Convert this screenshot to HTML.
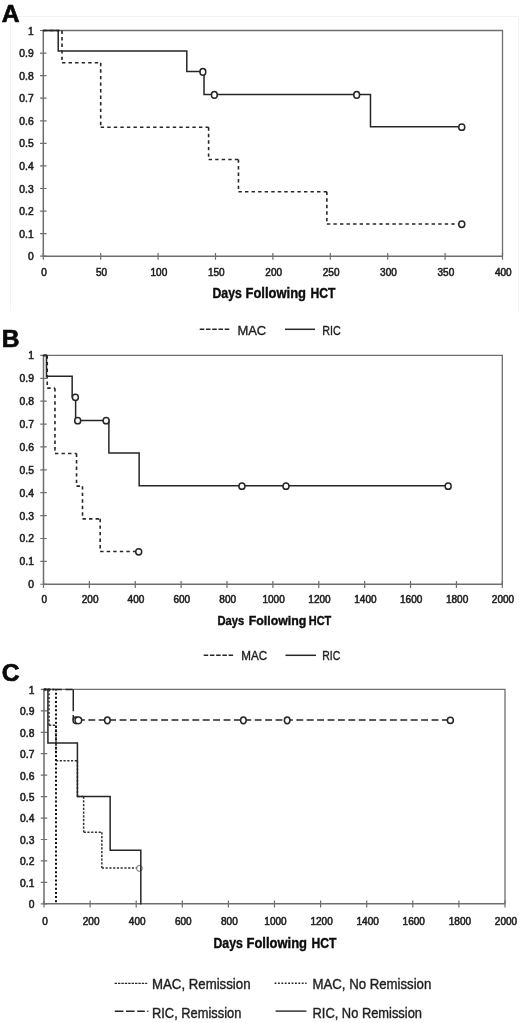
<!DOCTYPE html>
<html lang="en"><head><meta charset="utf-8"><title>Survival following HCT</title>
<style>html,body{margin:0;padding:0;background:#fff}body{width:520px;height:1023px;overflow:hidden}svg{display:block}</style>
</head><body>
<svg width="520" height="1023" viewBox="0 0 520 1023" font-family='"Liberation Sans", Arial, sans-serif'>
<rect width="520" height="1023" fill="#fff"/>
<path d="M10.5 311V16.5H518.5V311" fill="none" stroke="#f3f3f3" stroke-width="1"/>
<path d="M43.3 30.5H502.5V256.2" fill="none" stroke="#6e6e6e" stroke-width="1.3"/>
<path d="M43.3 30.5V256.2H502.5" fill="none" stroke="#6e6e6e" stroke-width="1.5"/>
<path d="M40.1 256.2H46.5M40.1 233.63H46.5M40.1 211.06H46.5M40.1 188.49H46.5M40.1 165.92H46.5M40.1 143.35H46.5M40.1 120.78H46.5M40.1 98.21H46.5M40.1 75.64H46.5M40.1 53.07H46.5M40.1 30.5H46.5M43.3 253.0V259.8M100.7 253.0V259.8M158.1 253.0V259.8M215.5 253.0V259.8M272.9 253.0V259.8M330.3 253.0V259.8M387.7 253.0V259.8M445.1 253.0V259.8M502.5 253.0V259.8" fill="none" stroke="#6e6e6e" stroke-width="1.2"/>
<g font-size="10.3" fill="#1f1f1f" stroke="#1f1f1f" stroke-width="0.55" text-anchor="end">
<text x="33.7" y="260.2">0</text>
<text x="33.7" y="237.6">0.1</text>
<text x="33.7" y="215.1">0.2</text>
<text x="33.7" y="192.5">0.3</text>
<text x="33.7" y="169.9">0.4</text>
<text x="33.7" y="147.3">0.5</text>
<text x="33.7" y="124.8">0.6</text>
<text x="33.7" y="102.2">0.7</text>
<text x="33.7" y="79.6">0.8</text>
<text x="33.7" y="57.1">0.9</text>
<text x="33.7" y="34.5">1</text>
</g>
<g font-size="10.05" fill="#1f1f1f" stroke="#1f1f1f" stroke-width="0.55" text-anchor="middle">
<text x="44.1" y="275.7">0</text>
<text x="101.5" y="275.7">50</text>
<text x="158.9" y="275.7">100</text>
<text x="216.3" y="275.7">150</text>
<text x="273.7" y="275.7">200</text>
<text x="331.1" y="275.7">250</text>
<text x="388.5" y="275.7">300</text>
<text x="445.9" y="275.7">350</text>
<text x="503.3" y="275.7">400</text>
</g>
<text x="1.7" y="22.0" font-size="24.6" font-weight="bold" fill="#0a0a0a" stroke="#0a0a0a" stroke-width="0.7">A</text>
<path d="M43.3 30.5H62.01M62.01 30.5V62.78M62.01 62.78H100.7M100.7 62.78V127.24M100.7 127.24H208.61M208.61 127.24V159.46M208.61 159.46H238.46M238.46 159.46V191.72M238.46 191.72H326.86M326.86 191.72V223.95M326.86 223.95H461.75" fill="none" stroke="#262626" stroke-width="1.6" stroke-dasharray="3.4 3.15"/>
<path d="M43.3 30.5H58.22M58.22 30.5V51.04M58.22 51.04H186.8M186.8 51.04V71.58M186.8 71.58H204.02M204.02 71.58V94.6M204.02 94.6H370.48M370.48 94.6V126.87M370.48 126.87H461.75" fill="none" stroke="#262626" stroke-width="1.5" stroke-linecap="square"/>
<ellipse cx="202.87" cy="71.88" rx="2.9" ry="3.3" fill="#fff" stroke="#262626" stroke-width="1.5"/>
<ellipse cx="214.35" cy="94.90" rx="2.9" ry="3.3" fill="#fff" stroke="#262626" stroke-width="1.5"/>
<ellipse cx="356.7" cy="94.90" rx="2.9" ry="3.3" fill="#fff" stroke="#262626" stroke-width="1.5"/>
<ellipse cx="461.75" cy="127.17" rx="3.0" ry="3.15" fill="#fff" stroke="#262626" stroke-width="1.5"/>
<ellipse cx="461.75" cy="224.25" rx="3.0" ry="3.15" fill="#fff" stroke="#262626" stroke-width="1.5"/>
<text y="298.0" font-size="14" font-weight="bold" fill="#0d0d0d" stroke="#0d0d0d" stroke-width="0.4"><tspan x="212.5" textLength="29.3" lengthAdjust="spacingAndGlyphs">Days</tspan> <tspan x="245.5" textLength="60.5" lengthAdjust="spacingAndGlyphs">Following</tspan> <tspan x="310.5" textLength="25.0" lengthAdjust="spacingAndGlyphs">HCT</tspan></text>
<path d="M199.7 329.3H229.5" fill="none" stroke="#262626" stroke-width="1.5" stroke-dasharray="4.6 1.65"/>
<path d="M285 329.3H315" fill="none" stroke="#262626" stroke-width="1.5"/>
<g font-size="12.3" fill="#1f1f1f" stroke="#1f1f1f" stroke-width="0.35"><text x="237.4" y="334.5" textLength="28.8" lengthAdjust="spacingAndGlyphs">MAC</text>
<text x="322.3" y="334.5" textLength="18.5" lengthAdjust="spacingAndGlyphs">RIC</text></g>
<path d="M43.5 355.4H502.3V584.25" fill="none" stroke="#6e6e6e" stroke-width="1.3"/>
<path d="M43.5 355.4V584.25H502.3" fill="none" stroke="#6e6e6e" stroke-width="1.5"/>
<path d="M40.3 584.25H46.7M40.3 561.37H46.7M40.3 538.48H46.7M40.3 515.6H46.7M40.3 492.71H46.7M40.3 469.82H46.7M40.3 446.94H46.7M40.3 424.06H46.7M40.3 401.17H46.7M40.3 378.28H46.7M40.3 355.4H46.7M43.5 581.0V587.9M89.38 581.0V587.9M135.26 581.0V587.9M181.14 581.0V587.9M227.02 581.0V587.9M272.9 581.0V587.9M318.78 581.0V587.9M364.66 581.0V587.9M410.54 581.0V587.9M456.42 581.0V587.9M502.3 581.0V587.9" fill="none" stroke="#6e6e6e" stroke-width="1.2"/>
<g font-size="10.3" fill="#1f1f1f" stroke="#1f1f1f" stroke-width="0.55" text-anchor="end">
<text x="33.9" y="588.1">0</text>
<text x="33.9" y="565.3">0.1</text>
<text x="33.9" y="542.4">0.2</text>
<text x="33.9" y="519.5">0.3</text>
<text x="33.9" y="496.6">0.4</text>
<text x="33.9" y="473.7">0.5</text>
<text x="33.9" y="450.8">0.6</text>
<text x="33.9" y="428.0">0.7</text>
<text x="33.9" y="405.1">0.8</text>
<text x="33.9" y="382.2">0.9</text>
<text x="33.9" y="359.3">1</text>
</g>
<g font-size="10.05" fill="#1f1f1f" stroke="#1f1f1f" stroke-width="0.55" text-anchor="middle">
<text x="44.2" y="602.9">0</text>
<text x="90.1" y="602.9">200</text>
<text x="136.0" y="602.9">400</text>
<text x="181.8" y="602.9">600</text>
<text x="227.7" y="602.9">800</text>
<text x="273.6" y="602.9">1000</text>
<text x="319.5" y="602.9">1200</text>
<text x="365.4" y="602.9">1400</text>
<text x="411.2" y="602.9">1600</text>
<text x="457.1" y="602.9">1800</text>
<text x="503.0" y="602.9">2000</text>
</g>
<text x="1.7" y="346.5" font-size="24.6" font-weight="bold" fill="#0a0a0a" stroke="#0a0a0a" stroke-width="0.7">B</text>
<path d="M43.5 355.4H47.24M47.24 355.4V388.13M47.24 388.13H54.97M54.97 388.13V453.49M54.97 453.49H76.53M76.53 453.49V486.16M76.53 486.16H82.5M82.5 486.16V518.87M82.5 518.87H100.16M100.16 518.87V551.55M100.16 551.55H138.7" fill="none" stroke="#262626" stroke-width="1.6" stroke-dasharray="3.4 3.15"/>
<path d="M43.5 355.4H46.48M46.48 355.4V376.23M46.48 376.23H72.17M72.17 376.23V397.05M72.17 397.05H75.62M75.62 397.05V420.39M75.62 420.39H108.88M108.88 420.39V453.12M108.88 453.12H139.16M139.16 453.12V485.84M139.16 485.84H447.7" fill="none" stroke="#262626" stroke-width="1.5" stroke-linecap="square"/>
<ellipse cx="75.39" cy="397.35" rx="3.0" ry="3.15" fill="#fff" stroke="#262626" stroke-width="1.5"/>
<ellipse cx="77.68" cy="420.69" rx="3.0" ry="3.15" fill="#fff" stroke="#262626" stroke-width="1.5"/>
<ellipse cx="106.13" cy="420.69" rx="3.0" ry="3.15" fill="#fff" stroke="#262626" stroke-width="1.5"/>
<ellipse cx="241.93" cy="486.14" rx="3.0" ry="3.15" fill="#fff" stroke="#262626" stroke-width="1.5"/>
<ellipse cx="285.98" cy="486.14" rx="3.0" ry="3.15" fill="#fff" stroke="#262626" stroke-width="1.5"/>
<ellipse cx="448.16" cy="486.14" rx="3.0" ry="3.15" fill="#fff" stroke="#262626" stroke-width="1.5"/>
<ellipse cx="138.7" cy="551.85" rx="3.0" ry="3.15" fill="#fff" stroke="#262626" stroke-width="1.5"/>
<text y="625.0" font-size="13" font-weight="bold" fill="#0d0d0d" stroke="#0d0d0d" stroke-width="0.4"><tspan x="217.5" textLength="26.8" lengthAdjust="spacingAndGlyphs">Days</tspan> <tspan x="248.8" textLength="57.5" lengthAdjust="spacingAndGlyphs">Following</tspan> <tspan x="308.8" textLength="22.5" lengthAdjust="spacingAndGlyphs">HCT</tspan></text>
<path d="M203.7 655.3H233.3" fill="none" stroke="#262626" stroke-width="1.5" stroke-dasharray="4.5 1.73"/>
<path d="M285.5 655.3H316" fill="none" stroke="#262626" stroke-width="1.5"/>
<g font-size="12" fill="#1f1f1f" stroke="#1f1f1f" stroke-width="0.35"><text x="241.3" y="660.2" textLength="25.9" lengthAdjust="spacingAndGlyphs">MAC</text>
<text x="322.3" y="660.2" textLength="18" lengthAdjust="spacingAndGlyphs">RIC</text></g>
<path d="M44.0 689.4H505.0V903.8" fill="none" stroke="#6e6e6e" stroke-width="1.3"/>
<path d="M44.0 689.4V903.8H505.0" fill="none" stroke="#6e6e6e" stroke-width="1.5"/>
<path d="M40.8 903.8H47.2M40.8 882.36H47.2M40.8 860.92H47.2M40.8 839.48H47.2M40.8 818.04H47.2M40.8 796.6H47.2M40.8 775.16H47.2M40.8 753.72H47.2M40.8 732.28H47.2M40.8 710.84H47.2M40.8 689.4H47.2M44.0 900.6V907.4M90.1 900.6V907.4M136.2 900.6V907.4M182.3 900.6V907.4M228.4 900.6V907.4M274.5 900.6V907.4M320.6 900.6V907.4M366.7 900.6V907.4M412.8 900.6V907.4M458.9 900.6V907.4M505.0 900.6V907.4" fill="none" stroke="#6e6e6e" stroke-width="1.2"/>
<g font-size="10.3" fill="#1f1f1f" stroke="#1f1f1f" stroke-width="0.55" text-anchor="end">
<text x="34.4" y="908.1">0</text>
<text x="34.4" y="886.7">0.1</text>
<text x="34.4" y="865.2">0.2</text>
<text x="34.4" y="843.8">0.3</text>
<text x="34.4" y="822.3">0.4</text>
<text x="34.4" y="800.9">0.5</text>
<text x="34.4" y="779.5">0.6</text>
<text x="34.4" y="758.0">0.7</text>
<text x="34.4" y="736.6">0.8</text>
<text x="34.4" y="715.1">0.9</text>
<text x="34.4" y="693.7">1</text>
</g>
<g font-size="10.05" fill="#1f1f1f" stroke="#1f1f1f" stroke-width="0.55" text-anchor="middle">
<text x="45.0" y="924.6">0</text>
<text x="91.1" y="924.6">200</text>
<text x="137.2" y="924.6">400</text>
<text x="183.3" y="924.6">600</text>
<text x="229.4" y="924.6">800</text>
<text x="275.5" y="924.6">1000</text>
<text x="321.6" y="924.6">1200</text>
<text x="367.7" y="924.6">1400</text>
<text x="413.8" y="924.6">1600</text>
<text x="459.9" y="924.6">1800</text>
<text x="506.0" y="924.6">2000</text>
</g>
<text x="1.7" y="681.0" font-size="24.6" font-weight="bold" fill="#0a0a0a" stroke="#0a0a0a" stroke-width="0.7">C</text>
<path d="M44.0 689.4H49.07M49.07 689.4V725.14M49.07 725.14H55.99M55.99 725.14V760.86M55.99 760.86H77.42M77.42 760.86V796.6M77.42 796.6H83.65M83.65 796.6V832.34M83.65 832.34H101.86M101.86 832.34V868.06M101.86 868.06H139.43" fill="none" stroke="#333" stroke-width="1.5" stroke-dasharray="2.2 1.55"/>
<ellipse cx="139.43" cy="868.36" rx="2.8" ry="3.0" fill="#fff" stroke="#555" stroke-width="0.9"/>
<path d="M44.0 689.4H55.99" fill="none" stroke="#262626" stroke-width="2.0" stroke-dasharray="2 2.15"/>
<path d="M55.99 689.4V903.8" fill="none" stroke="#111" stroke-width="2.0" stroke-dasharray="2 2.15" stroke-dashoffset="0.87"/>
<path d="M44.0 689.4H73.27" fill="none" stroke="#262626" stroke-width="1.5" stroke-dasharray="7.2 3.5"/>
<path d="M73.27 689.4V711.2M73.27 715V720.06" fill="none" stroke="#262626" stroke-width="1.5"/>
<path d="M73.27 720.06H450.14" fill="none" stroke="#262626" stroke-width="1.5" stroke-dasharray="6.9 3.5" stroke-dashoffset="5.73"/>
<ellipse cx="76.04" cy="720.36" rx="3.0" ry="3.3" fill="#fff" stroke="#262626" stroke-width="1.5"/>
<ellipse cx="78.34" cy="720.36" rx="3.3" ry="3.35" fill="#fff" stroke="#262626" stroke-width="1.5"/>
<ellipse cx="107.39" cy="720.36" rx="2.8" ry="3.4" fill="#fff" stroke="#262626" stroke-width="1.5"/>
<ellipse cx="243.38" cy="720.36" rx="2.8" ry="3.4" fill="#fff" stroke="#262626" stroke-width="1.5"/>
<ellipse cx="287.18" cy="720.36" rx="2.8" ry="3.4" fill="#fff" stroke="#262626" stroke-width="1.5"/>
<ellipse cx="450.37" cy="720.36" rx="3.0" ry="3.2" fill="#fff" stroke="#262626" stroke-width="1.5"/>
<path d="M44.0 689.4H47.92M47.92 689.4V743.0M47.92 743.0H77.42M77.42 743.0V796.6M77.42 796.6H110.15M110.15 796.6V850.2M110.15 850.2H140.81M140.81 850.2V903.8" fill="none" stroke="#262626" stroke-width="1.5" stroke-linecap="square"/>
<text y="948.2" font-size="14" font-weight="bold" fill="#0d0d0d" stroke="#0d0d0d" stroke-width="0.4"><tspan x="213.5" textLength="29.3" lengthAdjust="spacingAndGlyphs">Days</tspan> <tspan x="246.5" textLength="60.5" lengthAdjust="spacingAndGlyphs">Following</tspan> <tspan x="311.5" textLength="25.0" lengthAdjust="spacingAndGlyphs">HCT</tspan></text>
<path d="M114.6 983.4H147.2" fill="none" stroke="#262626" stroke-width="1.25" stroke-dasharray="2.4 1.0"/>
<path d="M274.6 983.3H306.6" fill="none" stroke="#262626" stroke-width="1.6" stroke-dasharray="1.8 1.6"/>
<path d="M114.8 1011.2H149" fill="none" stroke="#262626" stroke-width="1.4" stroke-dasharray="8.6 2.6 8.6 2.6 7.6 2.4 1.2 50"/>
<path d="M275.6 1011.1H306.4" fill="none" stroke="#262626" stroke-width="1.4"/>
<g font-size="14.5" fill="#1f1f1f" stroke="#1f1f1f" stroke-width="0.4">
<text x="152" y="989" textLength="98.5" lengthAdjust="spacingAndGlyphs">MAC, Remission</text>
<text x="312.5" y="989" textLength="118.8" lengthAdjust="spacingAndGlyphs">MAC, No Remission</text>
<text x="152" y="1017.7" textLength="89.3" lengthAdjust="spacingAndGlyphs">RIC, Remission</text>
<text x="312.5" y="1017.7" textLength="109.5" lengthAdjust="spacingAndGlyphs">RIC, No Remission</text>
</g>
</svg></body></html>
